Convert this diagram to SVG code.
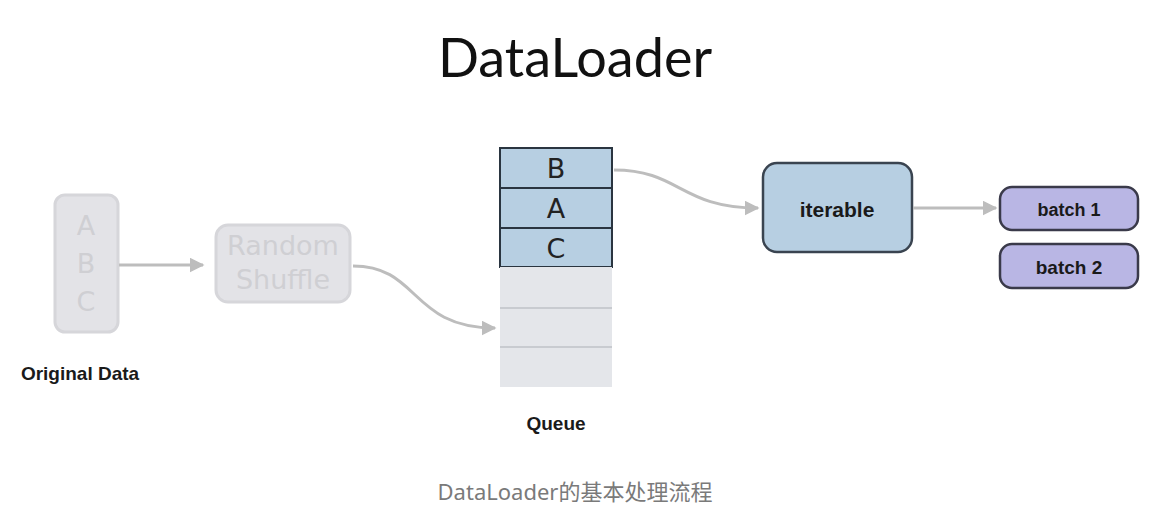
<svg xmlns="http://www.w3.org/2000/svg" width="1150" height="516" viewBox="0 0 1150 516">
<style>
.faded{fill:#e3e3e7;stroke:#d6d6da;stroke-width:3}
.ft{font-family:"DejaVu Sans",sans-serif;fill:#cfcfd3;font-size:27px;text-anchor:middle}
.q{font-family:"DejaVu Sans",sans-serif;fill:#222;font-size:27px;text-anchor:middle}
.b{font-family:"Liberation Sans",Arial,sans-serif;font-weight:bold;fill:#1a1a1a;text-anchor:middle}
.conn{fill:none;stroke:#bdbdbd;stroke-width:3}
</style>
<defs><marker id="ah" viewBox="0 0 10 10" refX="9" refY="5" markerWidth="5" markerHeight="5" orient="auto"><path d="M0,0 L10,5 L0,10 z" fill="#bdbdbd"/></marker></defs>
<rect width="1150" height="516" fill="#fff"/>
<text x="575" y="77" font-family="Lato,'Open Sans',sans-serif" font-size="54" fill="#111" text-anchor="middle">DataLoader</text>
<g id="original"><rect class="faded" x="55" y="195" width="63" height="137" rx="10"/>
<text class="ft" x="86" y="235">A</text><text class="ft" x="86" y="273">B</text><text class="ft" x="86" y="311">C</text>
<text class="b" x="80" y="380" font-size="19">Original Data</text></g>
<g id="shuffle"><rect class="faded" x="216" y="225" width="134" height="77" rx="12"/>
<text class="ft" x="283" y="255">Random</text><text class="ft" x="283" y="289">Shuffle</text></g>
<g id="queue">
<rect x="500" y="148" width="112" height="40" fill="#b7cfe2" stroke="#2a3540" stroke-width="2"/>
<rect x="500" y="188" width="112" height="40" fill="#b7cfe2" stroke="#2a3540" stroke-width="2"/>
<rect x="500" y="228" width="112" height="39" fill="#b7cfe2" stroke="#2a3540" stroke-width="2"/>
<rect x="500" y="267" width="112" height="120" fill="#e4e6ea"/>
<path d="M500,308H612M500,347H612" stroke="#c8cbd0" stroke-width="2"/>
<text class="q" x="556" y="178">B</text><text class="q" x="556" y="218">A</text><text class="q" x="556" y="258">C</text>
<text class="b" x="556" y="430" font-size="19">Queue</text></g>
<g id="iterable"><rect x="763" y="163" width="149" height="89" rx="14" fill="#b7cfe2" stroke="#3a4450" stroke-width="2.5"/>
<text class="b" x="837" y="217" font-size="21">iterable</text></g>
<g id="batch1"><rect x="1000" y="187" width="138" height="43" rx="12" fill="#b9b6e4" stroke="#3a3a4a" stroke-width="2.5"/>
<text class="b" x="1069" y="216" font-size="18">batch 1</text></g>
<g id="batch2"><rect x="1000" y="244" width="138" height="44" rx="12" fill="#b9b6e4" stroke="#3a3a4a" stroke-width="2.5"/>
<text class="b" x="1069" y="274" font-size="19">batch 2</text></g>
<g id="connectors">
<path class="conn" marker-end="url(#ah)" d="M119,265H203"/>
<path class="conn" marker-end="url(#ah)" d="M353,266C420,266 410,328 495,328"/>
<path class="conn" marker-end="url(#ah)" d="M614,170C680,170 680,208 758,208"/>
<path class="conn" marker-end="url(#ah)" d="M913,208H996"/>
</g>
<text x="575" y="500" font-family="'Noto Sans','Noto Sans CJK SC',sans-serif" font-size="22" fill="#7a7a7a" text-anchor="middle">DataLoader的基本处理流程</text>
</svg>
